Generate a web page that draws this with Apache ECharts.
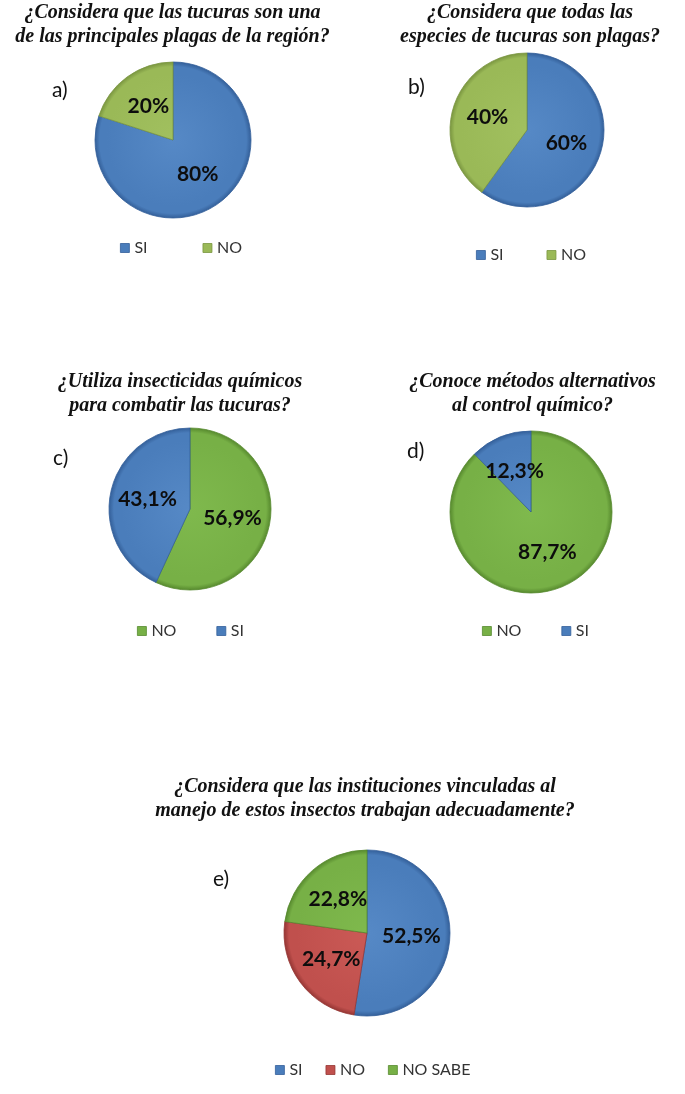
<!DOCTYPE html>
<html>
<head>
<meta charset="utf-8">
<script src="https://cdn.jsdelivr.net/npm/echarts@6/dist/echarts.min.js"></script>
<style>
  html, body { margin: 0; padding: 0; background: #fff; overflow: hidden; }
  .panel { position: absolute; }
</style>
</head>
<body>
<div id="pa" class="panel" style="left:0px; top:0px; width:345px; height:280px;"></div>
<div id="pb" class="panel" style="left:375px; top:0px; width:310px; height:280px;"></div>
<div id="pc" class="panel" style="left:0px; top:360px; width:360px; height:300px;"></div>
<div id="pd" class="panel" style="left:380px; top:360px; width:305px; height:300px;"></div>
<div id="pe" class="panel" style="left:45px; top:760px; width:640px; height:334px;"></div>
<script>
// data
const catsA = ["SI", "NO"];
const valsA = [80, 20];
const catsB = ["SI", "NO"];
const valsB = [60, 40];
const catsC = ["NO", "SI"];
const valsC = [56.9, 43.1];
const catsD = ["NO", "SI"];
const valsD = [87.7, 12.3];
const catsE = ["SI", "NO", "NO SABE"];
const valsE = [52.5, 24.7, 22.8];

const titleA = "¿Considera que las tucuras son una\nde las principales plagas de la región?";
const titleB = "¿Considera que todas las\nespecies de tucuras son plagas?";
const titleC = "¿Utiliza insecticidas químicos\npara combatir las tucuras?";
const titleD = "¿Conoce métodos alternativos\nal control químico?";
const titleE = "¿Considera que las instituciones vinculadas al\nmanejo de estos insectos trabajan adecuadamente?";

// colours: [light, base, dark]
const blue = ["#5689c6", "#4a7dbb", "#34609a"];
const olive = ["#a1c05f", "#9ab957", "#7a9640"];
const green = ["#7fb94d", "#77b046", "#578a2e"];
const red = ["#cb5a56", "#c0504d", "#963634"];

function grad(c, cx, cy, r) {
    return {
        type: "radial", x: cx, y: cy, r: r, global: true,
        colorStops: [
            {offset: 0, color: c[0]},
            {offset: 0.85, color: c[1]},
            {offset: 0.94, color: c[1]},
            {offset: 1, color: c[2]}
        ]
    };
}

function makePanel(id, p) {
    const chart = echarts.init(document.getElementById(id));
    const data = p.cats.map((name, i) => ({
        name: name,
        value: p.vals[i],
        itemStyle: {
            color: grad(p.colors[i], p.cx, p.cy, p.r),
            borderColor: p.colors[i][2],
            borderWidth: 0.8
        }
    }));
    chart.setOption({
        animation: false,
        title: [
            {
                text: p.title,
                left: "center",
                top: p.titleTop,
                padding: 0,
                textStyle: {
                    fontFamily: "Liberation Serif",
                    fontStyle: "italic",
                    fontWeight: "bold",
                    fontSize: 20,
                    lineHeight: 24,
                    color: "#111"
                }
            },
            {
                text: p.letter,
                left: p.letterX,
                top: p.letterY,
                padding: 0,
                textStyle: {
                    fontFamily: "Lato",
                    fontWeight: "normal",
                    fontSize: 21,
                    color: "#111"
                }
            }
        ],
        legend: {
            data: p.cats.map((name, i) => ({name: name, itemStyle: {color: p.colors[i][1], borderColor: p.colors[i][2], borderWidth: 0.8}})),
            left: p.legX,
            top: p.legY,
            padding: 0,
            itemGap: p.legGap,
            itemWidth: 9,
            itemHeight: 9,
            itemTextGap: 4,
            icon: "rect",
            selectedMode: false,
            textStyle: {fontFamily: "Lato", fontSize: 16, color: "#333"}
        },
        series: [{
            type: "pie",
            center: [p.cx, p.cy],
            radius: p.r,
            startAngle: 90,
            clockwise: true,
            silent: true,
            data: data,
            label: {
                show: true,
                position: "inside",
                formatter: d => String(d.value).replace(".", ",") + "%",
                fontFamily: "Lato",
                fontWeight: "bold",
                fontSize: 21,
                color: "#0d0d0d"
            },
            labelLine: {show: false},
            emphasis: {disabled: true}
        }]
    });
}

makePanel("pa", {cats: catsA, vals: valsA, colors: [blue, olive], title: titleA, titleTop: 1,
    cx: 173, cy: 140, r: 78, letter: "a)", letterX: 52, letterY: 80, legX: 120, legY: 240, legGap: 55});
makePanel("pb", {cats: catsB, vals: valsB, colors: [blue, olive], title: titleB, titleTop: 1,
    cx: 152, cy: 130, r: 77, letter: "b)", letterX: 33, letterY: 77, legX: 101, legY: 247, legGap: 43});
makePanel("pc", {cats: catsC, vals: valsC, colors: [green, blue], title: titleC, titleTop: 10,
    cx: 190, cy: 149, r: 81, letter: "c)", letterX: 53, letterY: 88, legX: 137, legY: 263, legGap: 40});
makePanel("pd", {cats: catsD, vals: valsD, colors: [green, blue], title: titleD, titleTop: 10,
    cx: 151, cy: 152, r: 81, letter: "d)", letterX: 27, letterY: 81, legX: 102, legY: 263, legGap: 40});
makePanel("pe", {cats: catsE, vals: valsE, colors: [blue, red, green], title: titleE, titleTop: 15,
    cx: 322, cy: 173, r: 83, letter: "e)", letterX: 168, letterY: 109, legX: 230, legY: 302, legGap: 23});
</script>
</body>
</html>
